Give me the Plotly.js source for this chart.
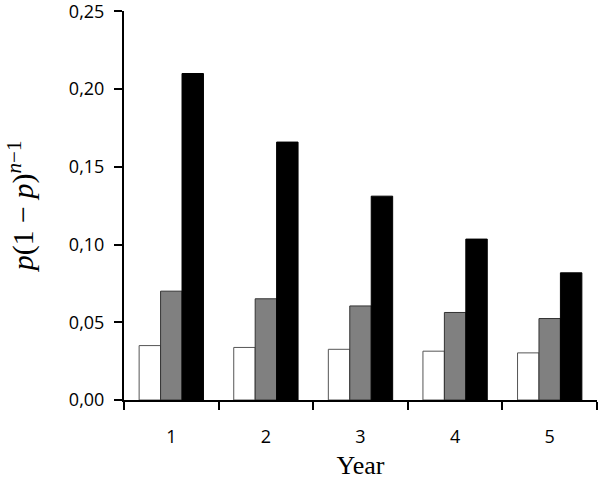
<!DOCTYPE html>
<html><head><meta charset="utf-8">
<script src="https://cdn.plot.ly/plotly-3.0.1.min.js"></script>
<style>body{margin:0;background:#fff}#c{width:600px;height:481px}</style>
</head><body><div id="c"></div>
<script>
const years = ['1','2','3','4','5'];
const seriesLow = [0.035, 0.0338, 0.0326, 0.0314, 0.0303];
const seriesMid = [0.070, 0.0651, 0.0605, 0.0563, 0.0524];
const seriesHigh = [0.210, 0.1659, 0.1311, 0.1035, 0.0818];
const yTicks = [0, 0.05, 0.10, 0.15, 0.20, 0.25];

const traces = [
  {type:'bar', x:years, y:seriesLow, marker:{color:'#ffffff', line:{color:'#555', width:1}}},
  {type:'bar', x:years, y:seriesMid, marker:{color:'#808080', line:{color:'#333', width:1}}},
  {type:'bar', x:years, y:seriesHigh, marker:{color:'#000000', line:{color:'#000', width:1}}}
];
const layout = {
  width:600, height:481,
  margin:{l:124, r:3, t:11, b:81},
  separators:', ',
  showlegend:false,
  barmode:'group', bargap:0.32, bargroupgap:0,
  paper_bgcolor:'#fff', plot_bgcolor:'#fff',
  font:{family:'Open Sans, sans-serif', color:'#000'},
  xaxis:{type:'category', showline:true, linecolor:'#000', linewidth:2,
    ticks:'outside', tickson:'boundaries', ticklen:8, tickwidth:2, tickcolor:'#000',
    showgrid:false, zeroline:false, ticklabelstandoff:19,
    tickfont:{size:18, family:'Open Sans, sans-serif'},
    title:{text:'Year', font:{family:'Liberation Serif, Times New Roman, serif', size:26}, standoff:9}},
  yaxis:{range:[0,0.2502], tickvals:yTicks, tickformat:'.2f', showline:true, linecolor:'#000', linewidth:2,
    ticks:'outside', ticklen:8, tickwidth:2, tickcolor:'#000', showgrid:false, zeroline:false,
    ticklabelstandoff:6, ticklabeloverflow:'allow',
    tickfont:{size:18, family:'Open Sans, sans-serif'},
    title:{text:'<i>p</i>(1 − <i>p</i>)<sup><i>n</i>−1</sup>', font:{family:'Liberation Serif, Times New Roman, serif', size:30}, standoff:26}}
};
Plotly.newPlot('c', traces, layout, {displayModeBar:false, staticPlot:true});
</script></body></html>
